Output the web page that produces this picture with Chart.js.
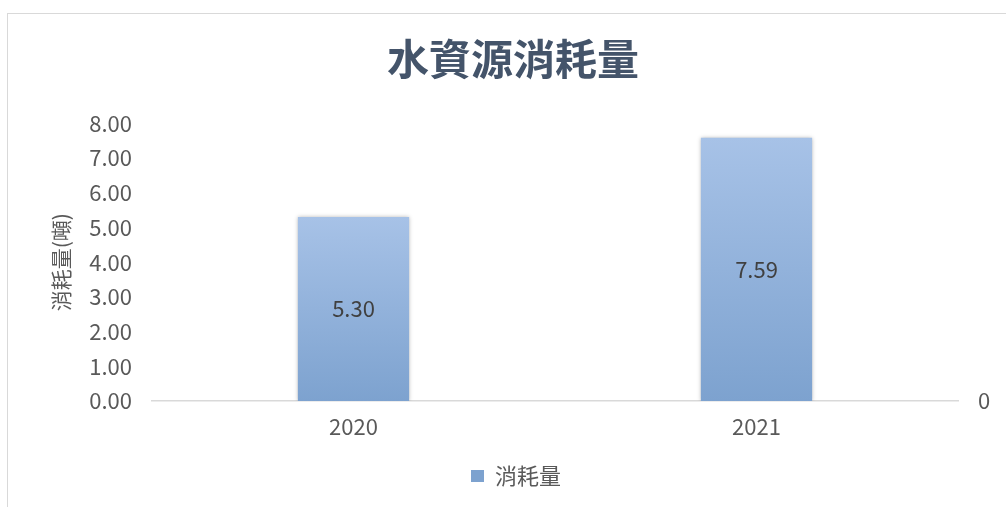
<!DOCTYPE html>
<html>
<head>
<meta charset="utf-8">
<script src="https://cdn.jsdelivr.net/npm/chart.js@4"></script>
<style>
  html, body { margin: 0; padding: 0; background: #fff; overflow: hidden; }
  #wrap { position: relative; width: 1006px; height: 507px; }
  #frame { position: absolute; left: 7px; top: 13px; width: 1100px; height: 600px;
           border: 1.5px solid #D9D9D9; box-sizing: border-box; }
  canvas { position: absolute; left: 0; top: 0; }
</style>
</head>
<body>
<div id="wrap">
  <div id="frame"></div>
  <canvas id="c" width="1006" height="507"></canvas>
</div>
<script>
const chartTitle = '水資源消耗量';
const categories = ['2020', '2021'];
const seriesName = '消耗量';
const seriesValues = [5.30, 7.59];
const yAxisTitle = '消耗量(噸)';
const yMin = 0;
const yMax = 8;
const yStep = 1;

const FONT = "'Noto Sans CJK TC', 'Noto Sans', sans-serif";
const GRAY = '#595959';

const barLabels = {
  id: 'barLabels',
  beforeDatasetsDraw(chart) {
    const ctx = chart.ctx;
    ctx.save();
    ctx.shadowColor = 'rgba(0,0,0,0.28)';
    ctx.shadowBlur = 4;
  },
  afterDatasetsDraw(chart) {
    const ctx = chart.ctx;
    ctx.restore();
    const meta = chart.getDatasetMeta(0);
    ctx.save();
    ctx.font = "22px " + FONT;
    ctx.fillStyle = '#404040';
    ctx.textAlign = 'center';
    ctx.textBaseline = 'middle';
    meta.data.forEach((bar, i) => {
      const v = chart.data.datasets[0].data[i];
      ctx.fillText(v.toFixed(2), bar.x, (bar.y + bar.base) / 2);
    });
    ctx.restore();
  }
};

const boxShift = {
  id: 'boxShift',
  afterLayout(chart) {
    if (chart.legend) { chart.legend.left += 26; }
    if (chart.titleBlock) { chart.titleBlock.left += 10; chart.titleBlock.right += 10; }
  }
};

new Chart(document.getElementById('c'), {
  type: 'bar',
  data: {
    labels: categories,
    datasets: [{
      label: seriesName,
      data: seriesValues,
      yAxisID: 'y',
      borderWidth: 0,
      categoryPercentage: 1,
      barPercentage: 0.276,
      backgroundColor: (c) => {
        const fallback = '#93B3DE';
        if (c.type !== 'data') return fallback;
        const chart = c.chart;
        if (!chart.chartArea || !chart.scales.y) return fallback;
        const ys = chart.scales.y;
        const top = ys.getPixelForValue(c.raw);
        const bottom = ys.getPixelForValue(0);
        if (!isFinite(top) || !isFinite(bottom)) return fallback;
        const g = chart.ctx.createLinearGradient(0, top, 0, bottom);
        g.addColorStop(0, '#A7C2E7');
        g.addColorStop(1, '#7DA2CF');
        return g;
      }
    }]
  },
  options: {
    responsive: false,
    animation: false,
    devicePixelRatio: 1,
    layout: { padding: { left: 0, right: 0, top: 0, bottom: 10 } },
    plugins: {
      title: {
        display: true,
        text: chartTitle,
        color: '#44546A',
        font: { family: FONT, size: 42, weight: 'bold', lineHeight: 1.2 },
        padding: { top: 34, bottom: 39 }
      },
      legend: {
        display: true,
        position: 'bottom',
        labels: {
          color: GRAY,
          font: { family: FONT, size: 22 },
          boxWidth: 13,
          boxHeight: 12,
          padding: 10
        }
      },
      tooltip: { enabled: false }
    },
    scales: {
      x: {
        grid: { display: false, drawTicks: false },
        border: { display: true, color: '#D9D9D9', width: 1.5 },
        ticks: { color: GRAY, font: { family: FONT, size: 22 }, padding: 12 },
        afterFit(s) { s.height = 54; }
      },
      y: {
        position: 'left',
        min: yMin, max: yMax,
        grid: { display: false, drawTicks: false },
        border: { display: false },
        ticks: {
          stepSize: yStep,
          color: GRAY,
          font: { family: FONT, size: 22 },
          padding: 20,
          callback: (v) => Number(v).toFixed(2)
        },
        title: {
          display: true,
          text: yAxisTitle,
          color: GRAY,
          font: { family: FONT, size: 21 },
          padding: { top: 48, bottom: 0 }
        },
        afterFit(s) { s.width = 152; }
      },
      y2: {
        position: 'right',
        min: yMin, max: yMax,
        grid: { display: false, drawTicks: false },
        border: { display: false },
        ticks: {
          stepSize: yStep,
          color: GRAY,
          font: { family: FONT, size: 22 },
          padding: 20,
          callback: (v) => (v === 0 ? '0' : '')
        },
        afterFit(s) { s.width = 48; }
      }
    }
  },
  plugins: [barLabels, boxShift]
});
</script>
</body>
</html>
